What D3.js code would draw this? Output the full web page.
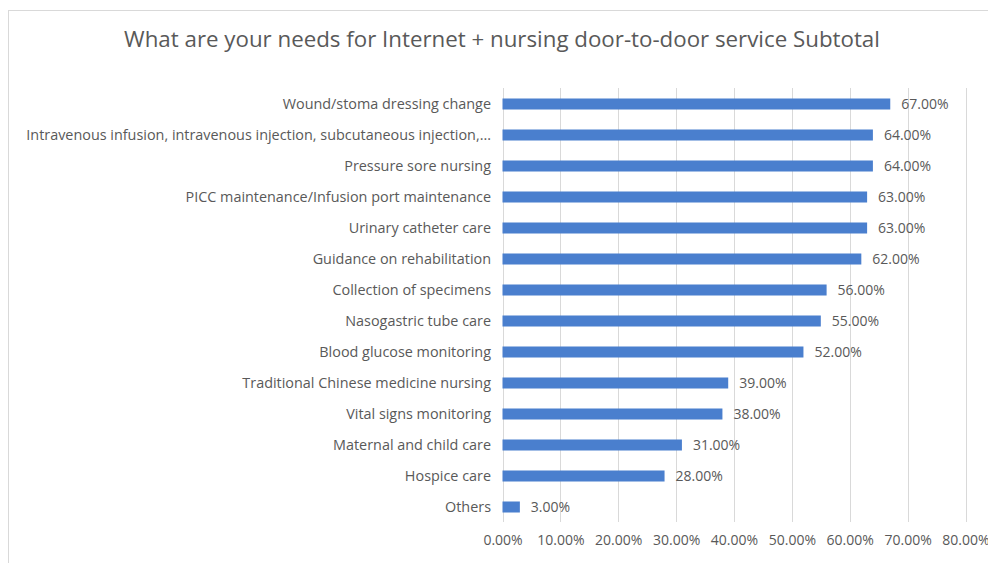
<!DOCTYPE html>
<html>
<head>
<meta charset="utf-8">
<script src="https://cdn.jsdelivr.net/npm/d3@7"></script>
<style>
  body { margin: 0; background: #fff; }
  text { font-family: "Open Sans", "Noto Sans", sans-serif; fill: #595959; }
</style>
</head>
<body>
<div id="chart"></div>
<script>
"use strict";

const categories = [
    "Wound/stoma dressing change",
    "Intravenous infusion, intravenous injection, subcutaneous injection,...",
    "Pressure sore nursing",
    "PICC maintenance/Infusion port maintenance",
    "Urinary catheter care",
    "Guidance on rehabilitation",
    "Collection of specimens",
    "Nasogastric tube care",
    "Blood glucose monitoring",
    "Traditional Chinese medicine nursing",
    "Vital signs monitoring",
    "Maternal and child care",
    "Hospice care",
    "Others"
];
const values = [0.67, 0.64, 0.64, 0.63, 0.63, 0.62, 0.56, 0.55, 0.52, 0.39, 0.38, 0.31, 0.28, 0.03];
const xTicks = [0, 0.1, 0.2, 0.3, 0.4, 0.5, 0.6, 0.7, 0.8];
const title = "What are your needs for Internet + nursing door-to-door service Subtotal";

const width = 988,
    height = 563;

const svg = d3.select("#chart").append("svg")
    .attr("width", width)
    .attr("height", height);

// chart frame
svg.append("rect")
    .attr("x", 8.5)
    .attr("y", 10.5)
    .attr("width", 1000)
    .attr("height", 600)
    .attr("fill", "#fff")
    .attr("stroke", "#d9d9d9");

const x = d3.scaleLinear()
    .domain([0, 0.8])
    .range([502.5, 965.5]);

const y = d3.scaleBand()
    .domain(categories)
    .range([88.5, 522.5])
    .paddingInner(0.645)
    .paddingOuter(0.3225);

const fmt = d3.format(".2%");

// gridlines
svg.append("g")
    .selectAll("line")
    .data(xTicks)
    .join("line")
    .attr("x1", (d) => Math.round(x(d)) + 0.5)
    .attr("x2", (d) => Math.round(x(d)) + 0.5)
    .attr("y1", 88)
    .attr("y2", 522)
    .attr("stroke", "#d9d9d9")
    .attr("stroke-width", 1);

// x axis labels
const xAxis = svg.append("g")
    .attr("transform", "translate(0,530)")
    .call(d3.axisBottom(x).tickValues(xTicks).tickFormat(fmt).tickSize(0).tickPadding(0));
xAxis.select(".domain").remove();
xAxis.selectAll("text")
    .attr("dy", "15px")
    .style("font-size", "14px")
    .style("fill", "#595959");

// category labels
const yAxis = svg.append("g")
    .attr("transform", "translate(502,0)")
    .call(d3.axisLeft(y).tickSize(0).tickPadding(11));
yAxis.select(".domain").remove();
yAxis.selectAll("text")
    .style("font-size", "14.4px")
    .style("fill", "#595959")
    .style("font-family", "\"Open Sans\", sans-serif");

// bars
svg.append("g")
    .selectAll("rect")
    .data(values)
    .join("rect")
    .attr("x", x(0))
    .attr("y", (d, i) => y(categories[i]))
    .attr("width", (d) => x(d) - x(0))
    .attr("height", y.bandwidth())
    .attr("fill", "#4a7fce");

// value labels
svg.append("g")
    .selectAll("text")
    .data(values)
    .join("text")
    .attr("x", (d) => x(d) + 11)
    .attr("y", (d, i) => y(categories[i]) + y.bandwidth() / 2)
    .attr("dy", "0.35em")
    .style("font-size", "14px")
    .text((d) => fmt(d));

// title
svg.append("text")
    .attr("x", 502)
    .attr("y", 47)
    .attr("text-anchor", "middle")
    .style("font-size", "22.3px")
    .text(title);
</script>
</body>
</html>
